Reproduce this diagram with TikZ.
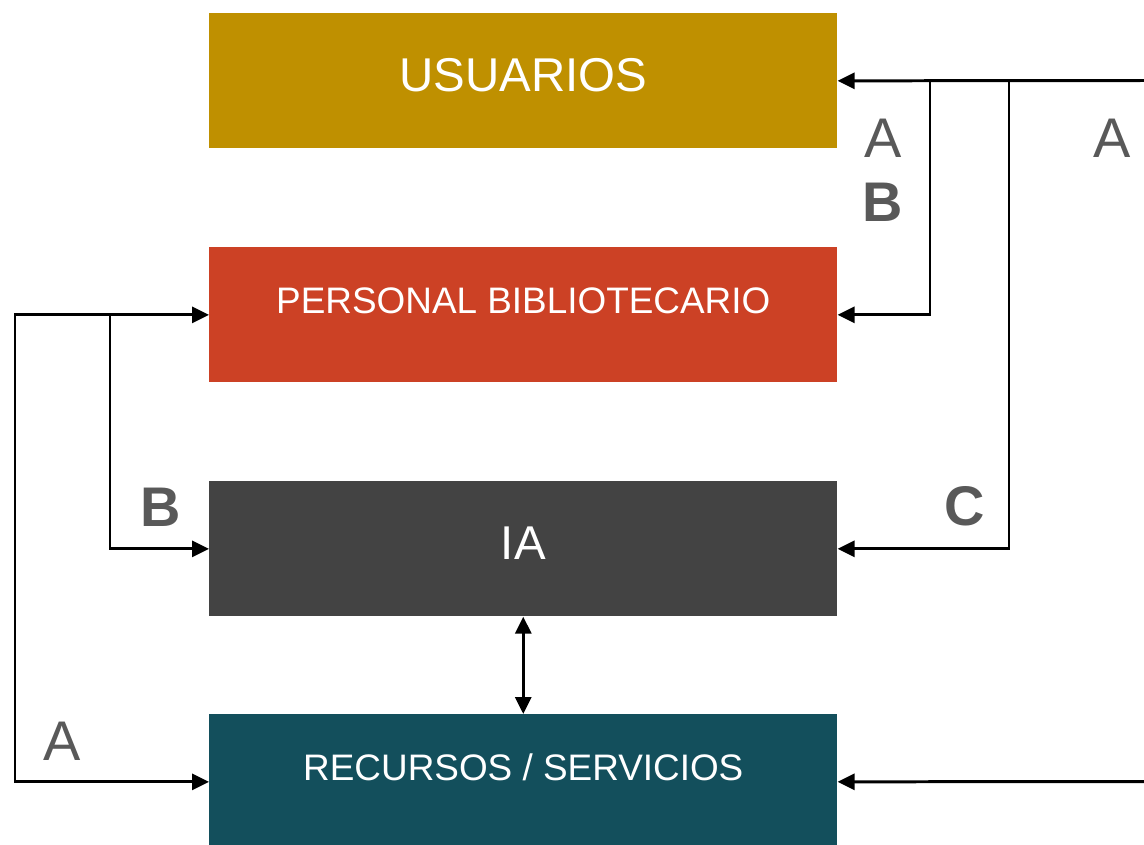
\documentclass[tikz,border=0pt]{standalone}
\usepackage{fontspec}
\setmainfont{Liberation Sans}
\usetikzlibrary{arrows.meta}
\definecolor{cgold}{HTML}{BF9000}
\definecolor{cred}{HTML}{CC4125}
\definecolor{cgray}{HTML}{434343}
\definecolor{cteal}{HTML}{134F5C}
\definecolor{clab}{HTML}{595959}
\begin{document}
\begin{tikzpicture}[x=0.02cm,y=-0.02cm,
  box/.style={minimum width=12.56cm, minimum height=2.7cm, inner sep=0pt, text=white, anchor=north west},
  bigtxt/.style={font=\fontsize{27}{29}\selectfont, text height=0.68cm, text depth=0.26cm},
  smalltxt/.style={font=\fontsize{21}{23}\selectfont, text height=0.53cm, text depth=0.58cm},
  conn/.style={line width=1.7pt, line join=miter, -{Triangle[length=0.34cm,width=0.32cm]}},
  both/.style={line width=1.7pt, line join=miter, {Triangle[length=0.34cm,width=0.32cm]}-{Triangle[length=0.34cm,width=0.32cm]}},
  lab/.style={text=clab, font=\fontsize{31.8}{33}\selectfont, inner sep=0pt},
  labb/.style={lab, font=\fontsize{31.8}{33}\selectfont\bfseries}
]
\useasboundingbox (0,0) rectangle (1144,845);
\node[box, fill=cgold, bigtxt] (usu) at (209,13) {USUARIOS};
\node[box, fill=cred, smalltxt] (per) at (209,247) {PERSONAL BIBLIOTECARIO};
\node[box, fill=cgray, bigtxt] (ia) at (209,481) {IA};
\node[box, fill=cteal, smalltxt] (rec) at (209,714) {RECURSOS / SERVICIOS};

\coordinate (edgeT) at (1146,80.5);
\coordinate (edgeB) at (1146,781.5);
\coordinate (j1) at (930,80.5);
\coordinate (j2) at (1009,80.5);
\coordinate (l1) at (15,0);
\coordinate (l2) at (110,0);

\draw[conn] (edgeT) -- (usu.east);
\draw[conn] (j1) -- (j1 |- per.east) -- (per.east);
\draw[conn] (j2) -- (j2 |- ia.east) -- (ia.east);
\draw[conn] (edgeB) -- (rec.east);
\draw[both] (per.west) -- (l1 |- per.west) -- (l1 |- rec.west) -- (rec.west);
\draw[conn] (l2 |- per.west) -- (l2 |- ia.west) -- (ia.west);
\draw[both] (ia.south) -- (rec.north);

\node[lab] (la1) at (883,138) {A};
\node[labb] (lb1) at (883,202.5) {B};
\node[lab] (la2) at (1112,138) {A};
\node[labb] (lb2) at (161,507) {B};
\node[labb] (lc) at (964.5,506.5) {C};
\node[lab] (la3) at (62,741) {A};
\end{tikzpicture}
\end{document}
